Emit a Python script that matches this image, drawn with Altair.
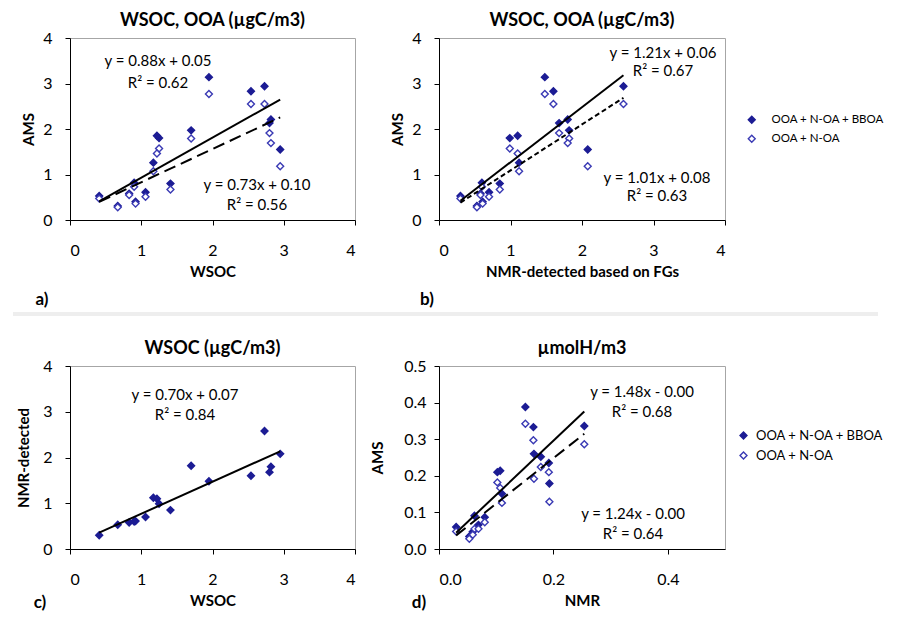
import altair as alt
import pandas as pd

FONT = "Lato"
NAVY = "#1c1c94"
BLUE = "#3a3ab4"
SER = ["OOA + N-OA + BBOA", "OOA + N-OA"]

# ---- samples used in panels a, b, c ----
wsoc = [0.41, 0.67, 0.83, 0.92, 0.90, 1.06, 1.17, 1.25, 1.22, 1.41, 1.70, 1.95, 2.54, 2.73, 2.80, 2.82, 2.95]
nmr_fg = [0.30, 0.53, 0.58, 0.61, 0.60, 0.70, 1.12, 0.99, 1.10, 0.85, 1.82, 1.48, 1.60, 2.58, 1.68, 1.80, 2.08]
ams_all = [0.53, 0.31, 0.58, 0.40, 0.82, 0.61, 1.26, 1.80, 1.85, 0.80, 1.97, 3.14, 2.83, 2.94, 2.13, 2.21, 1.55]
ams_ooa = [0.47, 0.28, 0.55, 0.36, 0.73, 0.51, 1.07, 1.57, 1.46, 0.67, 1.79, 2.77, 2.55, 2.55, 1.91, 1.69, 1.18]

# ---- panel d (umolH/m3) ----
nmr_d = [0.030, 0.053, 0.059, 0.062, 0.069, 0.080, 0.102, 0.107, 0.110, 0.151, 0.165, 0.166, 0.178, 0.192, 0.193, 0.254]
ams_d_all = [0.060, 0.034, 0.047, 0.091, 0.066, 0.087, 0.210, 0.214, 0.151, 0.388, 0.333, 0.260, 0.252, 0.235, 0.179, 0.336]
ams_d_ooa = [0.048, 0.028, 0.039, 0.055, 0.055, 0.073, 0.182, 0.167, 0.126, 0.342, 0.297, 0.192, 0.224, 0.210, 0.129, 0.286]

# ---- regression equations (slope, intercept) and labels ----
fit_a = [(0.88, 0.05), (0.73, 0.10)]
fit_b = [(1.21, 0.06), (1.01, 0.08)]
fit_c = [(0.70, 0.07)]
fit_d = [(1.48, 0.00), (1.24, 0.00)]
eq_a = [("y = 0.88x + 0.05", "R² = 0.62"), ("y = 0.73x + 0.10", "R² = 0.56")]
eq_b = [("y = 1.21x + 0.06", "R² = 0.67"), ("y = 1.01x + 0.08", "R² = 0.63")]
eq_c = [("y = 0.70x + 0.07", "R² = 0.84")]
eq_d = [("y = 1.48x - 0.00", "R² = 0.68"), ("y = 1.24x - 0.00", "R² = 0.64")]


def long_df(x, ys):
    rows = []
    for i, y in enumerate(ys):
        for xv, yv in zip(x, y):
            rows.append({"x": xv, "y": yv, "series": SER[i]})
    return pd.DataFrame(rows)


def fit_df(x, coeffs, i):
    m, b = coeffs[i]
    x0, x1 = min(x), max(x)
    return pd.DataFrame({"x": [x0, x1], "y": [m * x0 + b, m * x1 + b]})


ONE = pd.DataFrame({"k": [0]})


def label(text, px, py, size=15, weight="normal"):
    return alt.Chart(ONE).mark_text(text=text, font=FONT, fontSize=size, fontWeight=weight,
                                    color="black", baseline="middle").encode(
        x=alt.value(px), y=alt.value(py))


def panel(x, ys, fits, eqs, eq_pos, xdom, xvals, xfmt, xtitle, ydom, yvals, yfmt,
          ytitle, ytpad, ylpad, title, w, h, dash, legend, tag, tag_xy, extra=None):
    df = long_df(x, ys)
    xenc = alt.X("x:Q", scale=alt.Scale(domain=xdom, nice=False, zero=False),
                 axis=alt.Axis(values=xvals, format=xfmt, title=xtitle, labelOverlap=False,
                               labelPadding=17, titlePadding=6))
    yenc = alt.Y("y:Q", scale=alt.Scale(domain=ydom, nice=False, zero=False),
                 axis=alt.Axis(values=yvals, format=yfmt, title=ytitle, titlePadding=ytpad,
                               labelPadding=ylpad, labelOverlap=False))
    pts = alt.Chart(df).mark_point(shape="diamond", filled=True, size=48, strokeWidth=1.4,
                                   opacity=1).encode(
        x=xenc, y=yenc,
        fill=alt.Fill("series:N", scale=alt.Scale(domain=SER, range=[NAVY, "white"]), legend=legend),
        stroke=alt.Stroke("series:N", scale=alt.Scale(domain=SER, range=[NAVY, BLUE]), legend=None),
    )
    layers = [pts]
    for i in range(len(fits)):
        props = dict(color="black", strokeWidth=2)
        if i == 1:
            props["strokeDash"] = dash
        layers.append(alt.Chart(fit_df(x, fits, i)).mark_line(**props).encode(x=xenc, y=yenc))
    for (l1, l2), (px, py1, py2) in zip(eqs, eq_pos):
        layers.append(label(l1, px, py1))
        layers.append(label(l2, px, py2))
    layers.append(label(tag, tag_xy[0], tag_xy[1], size=17, weight="bold"))
    if extra is not None:
        layers.append(extra)
    return alt.layer(*layers).properties(
        width=w, height=h,
        title=alt.Title(title, fontSize=18, font=FONT, fontWeight="bold", offset=0, color="black"))


legend_top = alt.Legend(title=None, orient="none", legendX=307, legendY=76, labelFont=FONT,
                        labelFontSize=11.5, labelColor="black", symbolType="diamond", symbolSize=48,
                        symbolStrokeWidth=1.4, labelOffset=14, rowPadding=5, padding=0)
legend_bot = alt.Legend(title=None, orient="none", legendX=298, legendY=63, labelFont=FONT,
                        labelFontSize=13, labelColor="black", symbolType="diamond", symbolSize=48,
                        symbolStrokeWidth=1.4, labelOffset=6, rowPadding=6, padding=0)

sep = alt.Chart(ONE).mark_rule(color="#eeeeee", strokeWidth=4).encode(
    x=alt.value(-57), x2=alt.value(808), y=alt.value(276))

pa = panel(wsoc, [ams_all, ams_ooa], fit_a, eq_a,
           [(88, 23, 45), (187, 147, 167)],
           [0, 4], [0, 1, 2, 3, 4], "d", "WSOC", [0, 4], [0, 1, 2, 3, 4], "d", "AMS", 6, 13,
           "WSOC, OOA (µgC/m3)", 285, 182, [12, 6], None, "a)", (-28, 262), extra=sep)
pb = panel(nmr_fg, [ams_all, ams_ooa], fit_b, eq_b,
           [(224, 15, 33), (218, 140, 158)],
           [0, 4], [0, 1, 2, 3, 4], "d", "NMR-detected based on FGs", [0, 4], [0, 1, 2, 3, 4], "d",
           "AMS", 6, 13, "WSOC, OOA (µgC/m3)", 286, 182, [5, 3], legend_top, "b)", (-12, 262))
pc = panel(wsoc, [nmr_fg], fit_c, eq_c,
           [(115, 29, 49)],
           [0, 4], [0, 1, 2, 3, 4], "d", "WSOC", [0, 4], [0, 1, 2, 3, 4], "d", "NMR-detected", 11, 13,
           "WSOC (µgC/m3)", 285, 183, [12, 6], None, "c)", (-30, 237))
pd_ = panel(nmr_d, [ams_d_all, ams_d_ooa], fit_d, eq_d,
            [(203, 26, 46), (194, 148, 168)],
            [0, 0.5], [0, 0.2, 0.4], ".1f", "NMR", [0, 0.5], [0, 0.1, 0.2, 0.3, 0.4, 0.5], ".1f",
            "AMS", 18, 8, "µmolH/m3", 286, 183, [12, 6], legend_bot, "d)", (-20, 237))

chart = alt.concat(pa, pb, pc, pd_, columns=2, spacing={"row": 146, "column": 84},
                   bounds="flush").resolve_scale(
    x="independent", y="independent", fill="independent", stroke="independent").resolve_legend(
    fill="independent").properties(
    padding={"left": 2, "top": 3, "right": 0, "bottom": 0}
).configure_view(stroke="#a6a6a6", strokeWidth=1).configure_axis(
    grid=False, domainColor="black", domainWidth=1, tickColor="black", tickSize=5,
    labelFont=FONT, labelFontSize=16, labelColor="black",
    titleFont=FONT, titleFontSize=15, titleFontWeight="bold", titleColor="black"
).configure_title(anchor="middle")

chart.save("out.html", embed_options={"renderer": "svg", "actions": False})
